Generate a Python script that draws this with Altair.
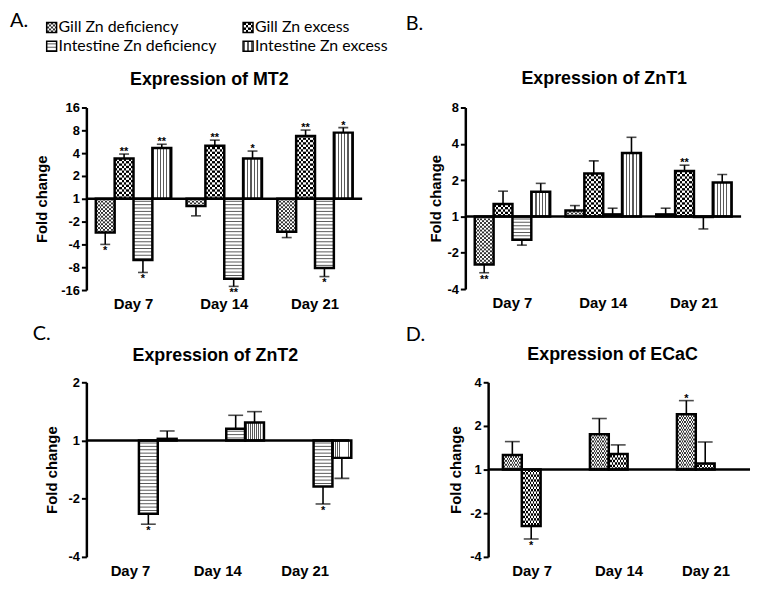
import altair as alt
import pandas as pd

FONT = "Liberation Sans"
LFONT = "Lato"
STRIPE = "#5a5a5a"
FINE = "#303030"

DAYS = ["Day 7", "Day 14", "Day 21"]
GD = "Gill Zn deficiency"
GE = "Gill Zn excess"
ID = "Intestine Zn deficiency"
IE = "Intestine Zn excess"
LEGEND_LABELS = [GD, GE, ID, IE]
LEGEND_COL = [0, 1, 0, 1]
LEGEND_ROW = [0, 0, 1, 1]

# Fold change (negative = fold decrease), error-bar tip, significance marks
# Expression of MT2
mt2_gd = [-2.79, -1.25, -2.73]
mt2_gd_tip = [-4.00, -1.68, -3.25]
mt2_gd_sig = ["*", "", ""]
mt2_ge = [3.41, 4.99, 6.73]
mt2_ge_tip = [3.89, 5.94, 8.06]
mt2_ge_sig = ["**", "**", "**"]
mt2_id = [-6.41, -11.39, -8.22]
mt2_id_tip = [-9.38, -14.32, -10.63]
mt2_id_sig = ["*", "**", "*"]
mt2_ie = [4.66, 3.41, 7.46]
mt2_ie_tip = [5.24, 4.26, 8.69]
mt2_ie_sig = ["**", "*", "*"]

# Expression of ZnT1
znt1_gd = [-2.50, 1.12, 1.04]
znt1_gd_tip = [-2.93, 1.23, 1.17]
znt1_gd_sig = ["**", "", ""]
znt1_ge = [1.27, 2.27, 2.38]
znt1_ge_tip = [1.62, 2.89, 2.66]
znt1_ge_sig = ["", "", "**"]
znt1_id = [-1.56, 1.04, -1.01]
znt1_id_tip = [-1.73, 1.17, -1.27]
znt1_id_sig = ["", "", ""]
znt1_ie = [1.60, 3.36, 1.91]
znt1_ie_tip = [1.88, 4.53, 2.23]
znt1_ie_sig = ["", "", ""]

# Expression of ZnT2
znt2_id = [-2.39, 1.15, -1.73]
znt2_id_tip = [-2.71, 1.35, -2.13]
znt2_id_sig = ["*", "", "*"]
znt2_ie = [1.02, 1.24, -1.23]
znt2_ie_tip = [1.12, 1.41, -1.57]
znt2_ie_sig = ["", "", ""]

# Expression of ECaC
ecac_gd = [1.26, 1.75, 2.41]
ecac_gd_tip = [1.56, 2.25, 2.99]
ecac_gd_sig = ["", "", "*"]
ecac_ge = [-2.45, 1.28, 1.10]
ecac_ge_tip = [-3.01, 1.48, 1.55]
ecac_ge_sig = ["*", "", ""]

LABEL_EXPR = ("datum.value > 0 ? format(pow(2, datum.value), 'd') : "
              "(datum.value < 0 ? '-' + format(pow(2, -datum.value), 'd') : '1')")


def log2expr(f):
    return f"(datum.{f} >= 1 ? log(datum.{f}) / LN2 : -log(-datum.{f}) / LN2)"


def gstop(c, o):
    return alt.GradientStop(color=c, offset=min(1.0, max(0.0, o)))


def cells_grad(n, ca, cb):
    stops = []
    for k in range(n):
        c = ca if k % 2 == 0 else cb
        stops += [gstop(c, k / n), gstop(c, (k + 1) / n)]
    return alt.LinearGradient(gradient="linear", stops=stops, x1=0, x2=1, y1=0, y2=0)


def vstripe_grad(n, bg, fg, frac):
    stops = []
    for k in range(n):
        m1 = (k + 0.5 - frac / 2) / n
        m2 = (k + 0.5 + frac / 2) / n
        stops += [gstop(bg, k / n), gstop(bg, m1), gstop(fg, m1), gstop(fg, m2),
                  gstop(bg, m2), gstop(bg, (k + 1) / n)]
    return alt.LinearGradient(gradient="linear", stops=stops, x1=0, x2=1, y1=0, y2=0)


def rows(ch, start, step, length):
    return (ch.transform_calculate(
                span="abs(datum.pb - datum.pa)",
                dir="datum.pb >= datum.pa ? 1 : -1",
                rs=f"sequence({start}, abs(datum.pb - datum.pa), {step})")
            .transform_flatten(["rs"])
            .transform_calculate(
                ra="datum.pa + datum.dir * datum.rs",
                rb=f"datum.pa + datum.dir * min(datum.rs + {length}, datum.span)"))


def pattern_layers(df, s, prep, enc, barw, ppu):
    base = prep(alt.Chart(df)).transform_filter(alt.datum.series == s)
    if s in (GD, GE):
        dark, target = (FINE, 1.9) if s == GD else ("black", 2.45)
        n = max(2, round(barw / target))
        cu = barw / n / ppu
        return [
            base.mark_bar(fill=cells_grad(n, dark, "white"), strokeWidth=0).encode(**enc("pb", "pa")),
            rows(base, cu, 2 * cu, cu).mark_bar(fill=cells_grad(n, "white", dark), strokeWidth=0)
            .encode(**enc("ra", "rb")),
        ]
    if s == ID:
        period = 3.4 / ppu
        return [
            base.mark_bar(fill="white", strokeWidth=0).encode(**enc("pb", "pa")),
            rows(base, 0.6 * period, period, 1.0 / ppu).mark_bar(fill=STRIPE, strokeWidth=0)
            .encode(**enc("ra", "rb")),
        ]
    n = max(2, round(barw / 3.2))
    return [base.mark_bar(fill=vstripe_grad(n, "white", STRIPE, 0.35), strokeWidth=0)
            .encode(**enc("pb", "pa"))]


def letter_layer(text, lx, ly, opacity=1.0):
    return alt.Chart(pd.DataFrame({"t": [text]})).mark_text(
        align="left", baseline="alphabetic", font=LFONT, fontSize=20, color="black", opacity=opacity
    ).encode(x=alt.value(lx), y=alt.value(ly), text="t:N")


def legend_layers():
    legdf = pd.DataFrame({"label": LEGEND_LABELS, "series": LEGEND_LABELS,
                          "col": LEGEND_COL, "row": LEGEND_ROW})
    sw, lppu = 10, 19
    LX = alt.Scale(domain=[0, 1], range=[-40, 168], paddingInner=0.9495, paddingOuter=0)
    LY = alt.Scale(domain=[0, 2], range=[-85.7, -47.7], nice=False, zero=False)

    def lenc(ya, yb=None):
        e = {"x": alt.X("col:O", scale=LX, axis=None),
             "y": alt.Y(f"{ya}:Q", scale=LY, axis=None)}
        if yb:
            e["y2"] = alt.Y2(f"{yb}:Q")
        return e

    def lprep(ch):
        return ch.transform_calculate(pa="datum.row", pb=f"datum.row + {sw / lppu}")

    out = []
    for s in LEGEND_LABELS:
        out += pattern_layers(legdf, s, lprep, lenc, sw, lppu)
    out.append(lprep(alt.Chart(legdf)).mark_bar(fillOpacity=0, stroke="black", strokeWidth=1.5)
               .encode(**lenc("pb", "pa")))
    out.append(alt.Chart(legdf).transform_calculate(yc=f"datum.row + {sw / lppu / 2}")
               .mark_text(align="left", baseline="middle", dx=7, font=LFONT, fontSize=16, color="black")
               .encode(**lenc("yc"), text="label:N"))
    return out


def panel(series, vals, tips, sigs, dmin, dmax, width, height, p_in, p_out,
          title, title_offset, title_dx, title_pad, letter, lx, ly, legend=False, spacer_x=None):
    recs = []
    for s, v, t, g in zip(series, vals, tips, sigs):
        for d, a, b, c in zip(DAYS, v, t, g):
            recs.append({"day": d, "series": s, "fold": a, "tip": b, "sig": c})
    df = pd.DataFrame(recs)
    n = len(series)
    step = width / (3 - p_in + 2 * p_out)
    barw = step * (1 - p_in) / n
    ppu = height / (dmax - dmin)

    xscale = alt.Scale(paddingInner=p_in, paddingOuter=p_out)
    xaxis = alt.Axis(title=None, domain=False, ticks=False, labelAngle=0, labelFont=FONT,
                     labelFontSize=15, labelFontWeight="bold", labelColor="black", labelPadding=7)
    xo = alt.Scale(domain=series, paddingInner=0, paddingOuter=0)
    yscale = alt.Scale(domain=[dmin, dmax], nice=False, zero=False)
    yaxis = alt.Axis(values=list(range(dmin, dmax + 1)), labelExpr=LABEL_EXPR, title="Fold change",
                     grid=False, domainColor="black", domainWidth=2.5, tickColor="black", tickWidth=2,
                     tickSize=5, labelFont=FONT, labelFontSize=13, labelFontWeight="bold",
                     labelColor="black", labelPadding=2, titleFont=FONT, titleFontSize=15,
                     titleFontWeight="bold", titleColor="black", titlePadding=title_pad)

    def enc(ya, yb=None):
        e = {"x": alt.X("day:N", sort=DAYS, scale=xscale, axis=xaxis),
             "xOffset": alt.XOffset("series:N", scale=xo),
             "y": alt.Y(f"{ya}:Q", scale=yscale, axis=yaxis)}
        if yb:
            e["y2"] = alt.Y2(f"{yb}:Q")
        return e

    def prep(ch):
        return ch.transform_calculate(pa="0", pb=log2expr("fold"), yt=log2expr("tip"))

    layers = []
    for s in series:
        layers += pattern_layers(df, s, prep, enc, barw, ppu)
    layers.append(prep(alt.Chart(df)).mark_rule(color="black", strokeWidth=1.6).encode(**enc("pb", "yt")))
    layers.append(prep(alt.Chart(df)).mark_tick(orient="horizontal", color="black", thickness=1.6,
                                                size=round(barw * 0.52)).encode(**enc("yt")))
    layers.append(prep(alt.Chart(df)).mark_bar(fillOpacity=0, stroke="black", strokeWidth=2.5)
                  .encode(**enc("pb", "pa")))
    layers.append(alt.Chart(pd.DataFrame({"z": [0]})).mark_rule(color="black", strokeWidth=2.5)
                  .encode(y=alt.YDatum(0, scale=yscale, axis=yaxis)))
    layers.append(prep(alt.Chart(df)).transform_filter("datum.sig != '' && datum.pb >= 0")
                  .mark_text(baseline="alphabetic", dy=1, font=FONT, fontSize=11, fontWeight="bold",
                             color="black").encode(**enc("yt"), text="sig:N"))
    layers.append(prep(alt.Chart(df)).transform_filter("datum.sig != '' && datum.pb < 0")
                  .mark_text(baseline="top", dy=1, font=FONT, fontSize=11, fontWeight="bold",
                             color="black").encode(**enc("yt"), text="sig:N"))
    inner = alt.layer(*layers)
    extras = [letter_layer(letter, lx, ly)]
    if spacer_x is not None:
        extras.append(letter_layer(letter, spacer_x, ly, opacity=0))
    if legend:
        chart = alt.layer(inner, alt.layer(*legend_layers(), *extras)).resolve_scale(
            x="independent", y="independent")
    else:
        chart = alt.layer(inner, *extras)
    return chart.properties(
        width=width, height=height,
        title=alt.TitleParams(text=title, font=FONT, fontSize=18, fontWeight="bold", color="black",
                              anchor="middle", frame="group", baseline="alphabetic",
                              offset=title_offset, dx=title_dx))


A = panel([GD, GE, ID, IE], [mt2_gd, mt2_ge, mt2_id, mt2_ie],
          [mt2_gd_tip, mt2_ge_tip, mt2_id_tip, mt2_ie_tip],
          [mt2_gd_sig, mt2_ge_sig, mt2_id_sig, mt2_ie_sig],
          -4, 4, 278, 184, 0.169, 0.104, "Expression of MT2", -91.7, -15, 11,
          "A.", -77, -80.7, legend=True)
B = panel([GD, GE, ID, IE], [znt1_gd, znt1_ge, znt1_id, znt1_ie],
          [znt1_gd_tip, znt1_ge_tip, znt1_id_tip, znt1_ie_tip],
          [znt1_gd_sig, znt1_ge_sig, znt1_id_sig, znt1_ie_sig],
          -2, 3, 278, 183, 0.169, 0.104, "Expression of ZnT1", -88.5, 1, 3,
          "B.", -60, -78.3)
C = panel([ID, IE], [znt2_id, znt2_ie], [znt2_id_tip, znt2_ie_tip], [znt2_id_sig, znt2_ie_sig],
          -2, 1, 265, 176, 0.33, 0.17, "Expression of ZnT2", -55.5, -2.5, 9,
          "C.", -54, -43, spacer_x=-77)
D = panel([GD, GE], [ecac_gd, ecac_ge], [ecac_gd_tip, ecac_ge_tip], [ecac_gd_sig, ecac_ge_sig],
          -2, 2, 264, 176, 0.33, 0.17, "Expression of ECaC", -52.5, -6.5, 6,
          "D.", -83, -41.3)

row1 = alt.hconcat(A, B, spacing=18)
row2 = alt.hconcat(C, D, spacing=53)
chart = alt.vconcat(row1, row2, spacing=12).properties(
    padding={"left": 2, "top": 1, "right": 0, "bottom": 0}, background="white"
).configure_view(strokeWidth=0)

chart.save("out.html", embed_options={"renderer": "svg", "actions": False})
